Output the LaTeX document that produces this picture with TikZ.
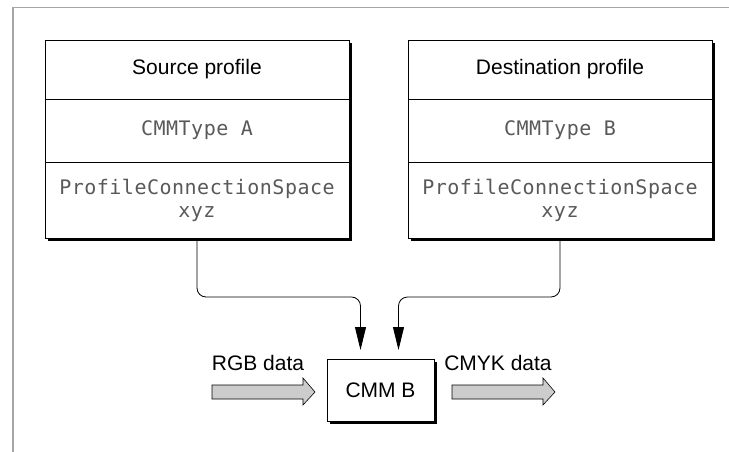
\documentclass[tikz,border=0pt]{standalone}
\usepackage{fontspec}
\setmainfont{Liberation Sans}
\newfontfamily\codefont[LetterSpace=2.5]{DejaVu Sans Mono}
\usepackage{tikz}
\usetikzlibrary{arrows.meta}
\usetikzlibrary{positioning}
\usetikzlibrary{backgrounds}

\tikzset{
	part/.style={draw,fill=white,line width=0.8pt,minimum width=304pt,inner sep=0pt,outer sep=0pt,align=center},
	code/.style={font=\codefont\fontsize{20}{23}\selectfont,text=black!65},
	shade/.style={fill=black},
	conn/.style={line width=0.8pt,rounded corners=9pt,-{Triangle[length=23pt,width=11pt]},shorten >=9pt},
	fatarrow/.style={draw,line width=0.6pt,fill=gray!40}
}

\begin{document}
\begin{tikzpicture}[x=1pt,y=-1pt,font=\fontsize{21}{25}\selectfont]
	\useasboundingbox (0,0) rectangle (729,452);
	\draw[black!35,line width=1.2pt] (13,452) -- (13,7.5) -- (729,7.5);
	
	% profiles
	\node[part,minimum height=59pt] (srcT) at (197,69.5) {Source profile};
	\node[part,code,minimum height=63pt,below=0pt of srcT] (srcM) {CMMType A};
	\node[part,code,minimum height=76pt,below=0pt of srcM] (srcP) {ProfileConnectionSpace\\xyz};
	
	\node[part,minimum height=59pt] (dstT) at (560,69.5) {Destination profile};
	\node[part,code,minimum height=63pt,below=0pt of dstT] (dstM) {CMMType B};
	\node[part,code,minimum height=76pt,below=0pt of dstM] (dstP) {ProfileConnectionSpace\\xyz};
	
	% module
	\node[part,minimum width=107pt,minimum height=62pt] (cmm) at (380.5,390) {CMM B};
	
	\begin{scope}[on background layer]
	\fill[shade] ([shift={(3,3)}]srcT.north west) rectangle ([shift={(3,3)}]srcP.south east);
	\fill[shade] ([shift={(3,3)}]dstT.north west) rectangle ([shift={(3,3)}]dstP.south east);
	\fill[shade] ([shift={(3,3)}]cmm.north west) rectangle ([shift={(3,3)}]cmm.south east);
	\end{scope}
	
	\draw[conn] (srcP.south) -- ++(0,59) -| ([xshift=-20pt]cmm.north);
	\draw[conn] (dstP.south) -- ++(0,59) -| ([xshift=18pt]cmm.north);
	
	% data flow
	\foreach \x/\name/\txt in {212/rgb/RGB data,452/cmyk/CMYK data}{
		\coordinate (\name) at (\x,392);
		\draw[fatarrow] (\name) ++(0,-7) -- ++(91,0) -- ++(0,-7) -- ++(12,14) -- ++(-12,13) -- ++(0,-6) -- ++(-91,0) -- cycle;
		\node (\name L) at ([xshift=46pt,yshift=29pt]\name) {\txt};
	}
\end{tikzpicture}
\end{document}
